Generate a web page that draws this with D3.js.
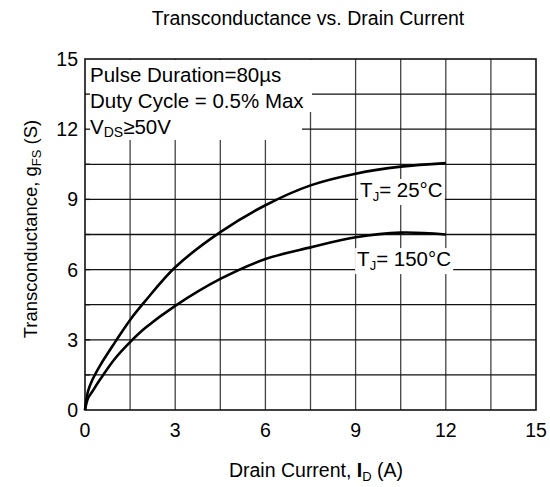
<!DOCTYPE html>
<html>
<head>
<meta charset="utf-8">
<script src="https://cdn.jsdelivr.net/npm/d3@7"></script>
<style>
body { margin: 0; background: #fff; }
text { font-family: "Liberation Sans", Arial, sans-serif; fill: #000; }
</style>
</head>
<body>
<svg width="550" height="487"></svg>
<script>
// drain current (A)
var current = [0, 0.1, 0.25, 0.5, 1, 1.5, 2, 3, 4.5, 6, 7.5, 9, 10.5, 12];
// transconductance gFS (S)
var gfs25 = [0, 0.8, 1.3, 1.9, 2.9, 3.85, 4.65, 6.1, 7.6, 8.75, 9.6, 10.1, 10.4, 10.55];
var gfs150 = [0, 0.5, 0.8, 1.3, 2.2, 2.9, 3.5, 4.45, 5.6, 6.45, 6.95, 7.38, 7.58, 7.5];
var xTicks = [0, 3, 6, 9, 12, 15];
var yTicks = [0, 3, 6, 9, 12, 15];
var gridStep = 1.5;

var svg = d3.select("svg");
var x = d3.scaleLinear().domain([0, 15]).range([85, 536]);
var y = d3.scaleLinear().domain([0, 15]).range([410, 59]);

var grid = d3.range(gridStep, 15, gridStep);

// grid lines
svg.append("g").selectAll("line").data(grid).enter().append("line")
  .attr("x1", function (d) { return x(d); }).attr("x2", function (d) { return x(d); })
  .attr("y1", y(0)).attr("y2", y(15))
  .attr("stroke", "#444").attr("stroke-width", 1.3);
svg.append("g").selectAll("line").data(grid).enter().append("line")
  .attr("y1", function (d) { return y(d); }).attr("y2", function (d) { return y(d); })
  .attr("x1", x(0)).attr("x2", x(15))
  .attr("stroke", "#111").attr("stroke-width", 1.3);

// legend box (white background over grid)
svg.append("rect").attr("x", x(0) + 1).attr("y", y(15) + 1)
  .attr("width", 216).attr("height", 80).attr("fill", "#fff");
svg.append("rect").attr("x", x(0) + 1).attr("y", y(15) + 1)
  .attr("width", 226).attr("height", 52).attr("fill", "#fff");

// inward ticks on left axis
svg.append("g").selectAll("line").data(grid).enter().append("line")
  .attr("x1", x(0)).attr("x2", x(0) + 5)
  .attr("y1", function (d) { return y(d); }).attr("y2", function (d) { return y(d); })
  .attr("stroke", "#111").attr("stroke-width", 1.3);

// frame
svg.append("rect").attr("x", x(0)).attr("y", y(15))
  .attr("width", x(15) - x(0)).attr("height", y(0) - y(15))
  .attr("fill", "none").attr("stroke", "#111").attr("stroke-width", 1.6);

// curves
var line = d3.line()
  .x(function (d) { return x(d[0]); })
  .y(function (d) { return y(d[1]); })
  .curve(d3.curveCatmullRom.alpha(0.5));

[gfs25, gfs150].forEach(function (s) {
  svg.append("path")
    .datum(current.map(function (c, i) { return [c, s[i]]; }))
    .attr("d", line)
    .attr("fill", "none").attr("stroke", "#000").attr("stroke-width", 2.6);
});

// legend text
var lg = svg.append("g").style("font-size", "20.5px");
lg.append("text").attr("x", 90).attr("y", 82).text("Pulse Duration=80µs");
lg.append("text").attr("x", 90).attr("y", 108).text("Duty Cycle = 0.5% Max");
var v = lg.append("text").attr("x", 90).attr("y", 134);
v.append("tspan").text("V");
v.append("tspan").attr("dy", 3).style("font-size", "14px").text("DS");
v.append("tspan").attr("dy", -3).text("≥50V");

// curve labels
function tjLabel(xv, yv, t) {
  var g = svg.append("g");
  var r = g.append("rect").attr("fill", "#fff");
  var tx = g.append("text").attr("x", x(xv)).attr("y", y(yv)).style("font-size", "20.5px");
  tx.append("tspan").text("T");
  tx.append("tspan").attr("dy", 4).style("font-size", "13px").text("J");
  tx.append("tspan").attr("dy", -4).text(t);
  var b = tx.node().getBBox();
  r.attr("x", b.x - 2).attr("y", b.y + 1).attr("width", b.width + 4).attr("height", b.height);
}
tjLabel(9.15, 9.1, "= 25°C");
tjLabel(9.05, 6.15, "= 150°C");

// tick labels
svg.append("g").selectAll("text").data(xTicks).enter().append("text")
  .attr("x", function (d) { return x(d); }).attr("y", 437)
  .attr("text-anchor", "middle").style("font-size", "19.5px")
  .text(function (d) { return d; });
svg.append("g").selectAll("text").data(yTicks).enter().append("text")
  .attr("x", 78).attr("y", function (d) { return y(d) + 7; })
  .attr("text-anchor", "end").style("font-size", "19.5px")
  .text(function (d) { return d; });

// titles
svg.append("text").attr("x", 308).attr("y", 25).attr("text-anchor", "middle")
  .style("font-size", "19.5px").text("Transconductance vs. Drain Current");

var xt = svg.append("text").attr("x", 316).attr("y", 477).attr("text-anchor", "middle")
  .style("font-size", "19.5px");
xt.append("tspan").text("Drain Current, ");
xt.append("tspan").style("font-weight", "bold").text("I");
xt.append("tspan").attr("dy", 4).style("font-size", "13px").text("D");
xt.append("tspan").attr("dy", -4).text(" (A)");

var yt = svg.append("text").attr("transform", "translate(37,229) rotate(-90)")
  .attr("text-anchor", "middle").style("font-size", "18.5px");
yt.append("tspan").text("Transconductance, g");
yt.append("tspan").attr("dy", 4).style("font-size", "13px").text("FS");
yt.append("tspan").attr("dy", -4).text(" (S)");
</script>
</body>
</html>
